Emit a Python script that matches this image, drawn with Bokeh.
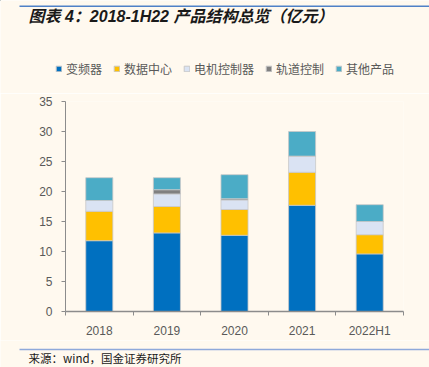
from bokeh.plotting import figure
from bokeh.models import Range1d, FixedTicker, Legend, LegendItem
from bokeh.layouts import column
from bokeh.core.properties import value
from bokeh.embed import file_html
from bokeh.resources import INLINE

years = ["2018", "2019", "2020", "2021", "2022H1"]
inverter = [11.8, 13.1, 12.7, 17.7, 9.6]
datacenter = [4.9, 4.4, 4.3, 5.5, 3.2]
motor = [1.8, 2.1, 1.6, 2.7, 2.2]
rail = [0.0, 0.7, 0.2, 0.0, 0.0]
other = [3.8, 2.0, 4.0, 4.1, 2.8]
series_names = ["变频器", "数据中心", "电机控制器", "轨道控制", "其他产品"]
colors = ["#0070C0", "#FFC000", "#DAE3F3", "#808080", "#4BACC6"]
y_ticks = [0, 5, 10, 15, 20, 25, 30, 35]
title_text = "图表 4：2018-1H22 产品结构总览（亿元）"
source_text = "来源：wind，国金证券研究所"

BG = "#FFF9EF"
W = 429
TOP_H, MAIN_H, BOT_H = 93, 247, 27


def blank(h):
    f = figure(width=W, height=h, output_backend="svg", toolbar_location=None,
               x_range=Range1d(0, W), y_range=Range1d(h, 0),
               x_axis_location=None, y_axis_location=None,
               min_border=0, min_border_left=0, min_border_right=0,
               min_border_top=0, min_border_bottom=0, frame_align=False)
    f.background_fill_color = BG
    f.border_fill_color = BG
    f.outline_line_color = None
    f.grid.grid_line_color = None
    return f


# ---- top: rule, title, legend
top = blank(TOP_H)
top.segment(x0=[19], y0=[5.8], x1=[W], y1=[5.8], line_color="#4F81C7", line_width=1.5)
top.text(x=[28], y=[16], text=[title_text], text_font=value("Liberation Sans, Noto Sans CJK SC"),
         text_font_style="bold italic", text_font_size="16px", text_color="#1A1A1A",
         text_baseline="middle")
# legend swatches (renderers placed off-view; only their legend glyphs are shown)
dummies = [top.vbar(x=[-50], top=[0], bottom=[-10], width=1, color=c, line_color="#C8C8C8")
           for c in colors]
lg = Legend(items=[LegendItem(label=n, renderers=[r]) for n, r in zip(series_names, dummies)],
            orientation="horizontal", location=(55, 16),
            border_line_color=None, background_fill_alpha=0, padding=0, margin=0,
            glyph_width=7, glyph_height=7, label_height=12, label_standoff=4, spacing=11,
            label_text_font="Noto Sans CJK SC", label_text_font_size="12px",
            label_text_color="#595959")
top.add_layout(lg)

# ---- main chart
xs = [i + 0.5 for i in range(len(years))]
data = dict(x=xs, s0=inverter, s1=datacenter, s2=motor, s3=rail, s4=other)

p = figure(width=W, height=MAIN_H, output_backend="svg", toolbar_location=None,
           x_range=Range1d(0, len(years)), y_range=Range1d(0, 35),
           min_border_left=65, min_border_right=26, min_border_top=8, min_border_bottom=28,
           frame_align=False)
p.background_fill_color = BG
p.border_fill_color = BG
p.outline_line_color = None
p.grid.grid_line_color = None

p.vbar_stack(["s0", "s1", "s2", "s3", "s4"], x="x", width=0.4, source=data,
             color=colors, line_color="#C8C8C8", line_width=0.8)

p.yaxis.ticker = FixedTicker(ticks=y_ticks)
p.yaxis.axis_line_color = "#8C8C8C"
p.yaxis.major_tick_line_color = "#8C8C8C"
p.yaxis.major_tick_out = 4
p.yaxis.major_tick_in = 0
p.yaxis.minor_tick_line_color = None
p.yaxis.major_label_standoff = 9
p.yaxis.major_label_text_font = "Liberation Sans"
p.yaxis.major_label_text_font_size = "12px"
p.yaxis.major_label_text_color = "#595959"

p.xaxis.ticker = FixedTicker(ticks=xs, minor_ticks=list(range(len(years) + 1)))
p.xaxis.major_label_overrides = {x: y for x, y in zip(xs, years)}
p.xaxis.axis_line_color = "#8C8C8C"
p.xaxis.axis_line_width = 1.5
p.xaxis.major_tick_line_color = None
p.xaxis.major_tick_out = 0
p.xaxis.major_tick_in = 0
p.xaxis.minor_tick_line_color = "#8C8C8C"
p.xaxis.minor_tick_out = 4
p.xaxis.minor_tick_in = 0
p.xaxis.major_label_standoff = 8
p.xaxis.major_label_text_font = "Liberation Sans"
p.xaxis.major_label_text_font_size = "12px"
p.xaxis.major_label_text_color = "#595959"

# ---- bottom: rule and source
bot = blank(BOT_H)
bot.segment(x0=[19], y0=[9], x1=[W], y1=[9], line_color="#8EA9DB", line_width=1.5)
bot.text(x=[28], y=[17.5], text=[source_text], text_font=value("Noto Sans CJK SC"),
         text_font_size="11.5px", text_color="#1A1A1A", text_baseline="middle")

layout = column(top, p, bot, spacing=0)
open("out.html", "w").write(file_html(layout, INLINE))
